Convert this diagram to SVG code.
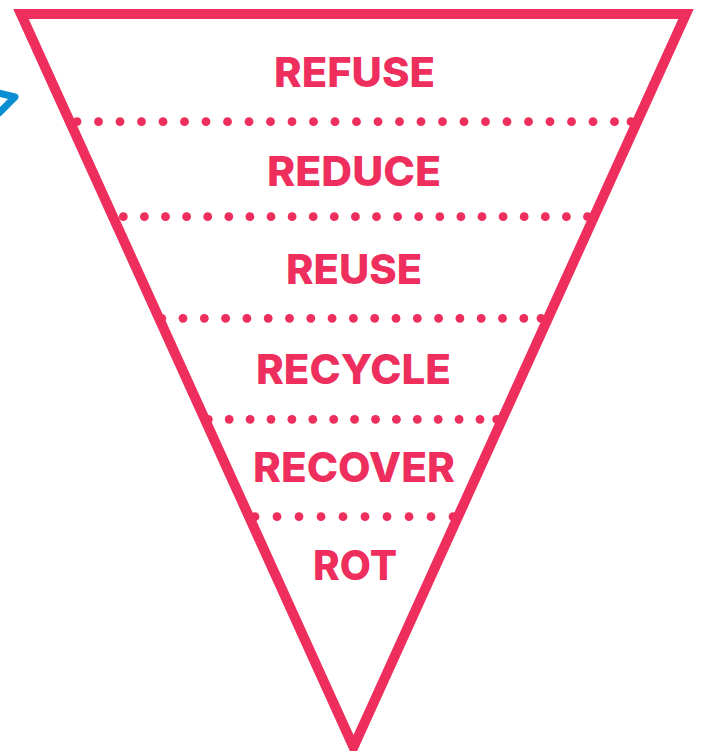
<svg xmlns="http://www.w3.org/2000/svg" width="704" height="751" viewBox="0 0 704 751">
<style>
.lbl{font-family:Inter,"Open Sans","Liberation Sans",sans-serif;font-weight:800;font-size:41px;fill:#ee2e5d}
.dot{fill:#ee2e5d}
.tri{fill:none;stroke:#ee2e5d;stroke-width:10;stroke-linejoin:miter;stroke-miterlimit:20}
.arrow{fill:none;stroke:#0b8fd2;stroke-width:7;stroke-linejoin:round}
</style>
<rect width="704" height="751" fill="#ffffff"/>
<g id="labels">
<g id="refuse"><text class="lbl" x="274" y="87" textLength="161" lengthAdjust="spacingAndGlyphs">REFUSE</text></g>
<g id="reduce"><text class="lbl" x="267" y="186" textLength="174" lengthAdjust="spacingAndGlyphs">REDUCE</text></g>
<g id="reuse"><text class="lbl" x="286" y="284" textLength="136" lengthAdjust="spacingAndGlyphs">REUSE</text></g>
<g id="recycle"><text class="lbl" x="256" y="384" textLength="195" lengthAdjust="spacingAndGlyphs">RECYCLE</text></g>
<g id="recover"><text class="lbl" x="253" y="482" textLength="202" lengthAdjust="spacingAndGlyphs">RECOVER</text></g>
<g id="rot"><text class="lbl" x="313" y="580" textLength="84" lengthAdjust="spacingAndGlyphs">ROT</text></g>
</g>
<g id="dots" class="dot">
<g id="row1">
<circle cx="77" cy="121.7" r="4.4"/><circle cx="98.5" cy="121.7" r="4.4"/><circle cx="120" cy="121.7" r="4.4"/><circle cx="141.5" cy="121.7" r="4.4"/><circle cx="163" cy="121.7" r="4.4"/><circle cx="184.5" cy="121.7" r="4.4"/><circle cx="206" cy="121.7" r="4.4"/><circle cx="227.5" cy="121.7" r="4.4"/><circle cx="249" cy="121.7" r="4.4"/><circle cx="270.5" cy="121.7" r="4.4"/><circle cx="292" cy="121.7" r="4.4"/><circle cx="313.5" cy="121.7" r="4.4"/><circle cx="335" cy="121.7" r="4.4"/><circle cx="356.5" cy="121.7" r="4.4"/><circle cx="378" cy="121.7" r="4.4"/><circle cx="399.5" cy="121.7" r="4.4"/><circle cx="421" cy="121.7" r="4.4"/><circle cx="442.5" cy="121.7" r="4.4"/><circle cx="464" cy="121.7" r="4.4"/><circle cx="485.5" cy="121.7" r="4.4"/><circle cx="507" cy="121.7" r="4.4"/><circle cx="528.5" cy="121.7" r="4.4"/><circle cx="550" cy="121.7" r="4.4"/><circle cx="571.5" cy="121.7" r="4.4"/><circle cx="593" cy="121.7" r="4.4"/><circle cx="614.5" cy="121.7" r="4.4"/><circle cx="631" cy="121.7" r="4.4"/>
</g>
<g id="row2">
<circle cx="123.3" cy="216.7" r="4.4"/><circle cx="144.4" cy="216.7" r="4.4"/><circle cx="165.5" cy="216.7" r="4.4"/><circle cx="186.6" cy="216.7" r="4.4"/><circle cx="207.7" cy="216.7" r="4.4"/><circle cx="228.8" cy="216.7" r="4.4"/><circle cx="249.9" cy="216.7" r="4.4"/><circle cx="271" cy="216.7" r="4.4"/><circle cx="292.1" cy="216.7" r="4.4"/><circle cx="313.2" cy="216.7" r="4.4"/><circle cx="334.3" cy="216.7" r="4.4"/><circle cx="355.4" cy="216.7" r="4.4"/><circle cx="376.5" cy="216.7" r="4.4"/><circle cx="397.6" cy="216.7" r="4.4"/><circle cx="418.7" cy="216.7" r="4.4"/><circle cx="439.8" cy="216.7" r="4.4"/><circle cx="460.9" cy="216.7" r="4.4"/><circle cx="482" cy="216.7" r="4.4"/><circle cx="503.1" cy="216.7" r="4.4"/><circle cx="524.2" cy="216.7" r="4.4"/><circle cx="545.3" cy="216.7" r="4.4"/><circle cx="566.4" cy="216.7" r="4.4"/><circle cx="587.5" cy="216.7" r="4.4"/>
</g>
<g id="row3">
<circle cx="161.7" cy="318.3" r="4.4"/><circle cx="183" cy="318.3" r="4.4"/><circle cx="204.3" cy="318.3" r="4.4"/><circle cx="225.6" cy="318.3" r="4.4"/><circle cx="246.9" cy="318.3" r="4.4"/><circle cx="268.2" cy="318.3" r="4.4"/><circle cx="289.5" cy="318.3" r="4.4"/><circle cx="310.8" cy="318.3" r="4.4"/><circle cx="332.1" cy="318.3" r="4.4"/><circle cx="353.4" cy="318.3" r="4.4"/><circle cx="374.7" cy="318.3" r="4.4"/><circle cx="396" cy="318.3" r="4.4"/><circle cx="417.3" cy="318.3" r="4.4"/><circle cx="438.6" cy="318.3" r="4.4"/><circle cx="459.9" cy="318.3" r="4.4"/><circle cx="481.2" cy="318.3" r="4.4"/><circle cx="502.5" cy="318.3" r="4.4"/><circle cx="523.8" cy="318.3" r="4.4"/><circle cx="541" cy="318.3" r="4.4"/>
</g>
<g id="row4">
<circle cx="208.3" cy="419.3" r="4.4"/><circle cx="229.2" cy="419.3" r="4.4"/><circle cx="250.1" cy="419.3" r="4.4"/><circle cx="271" cy="419.3" r="4.4"/><circle cx="291.9" cy="419.3" r="4.4"/><circle cx="312.8" cy="419.3" r="4.4"/><circle cx="333.7" cy="419.3" r="4.4"/><circle cx="354.6" cy="419.3" r="4.4"/><circle cx="375.5" cy="419.3" r="4.4"/><circle cx="396.4" cy="419.3" r="4.4"/><circle cx="417.3" cy="419.3" r="4.4"/><circle cx="438.2" cy="419.3" r="4.4"/><circle cx="459.1" cy="419.3" r="4.4"/><circle cx="480" cy="419.3" r="4.4"/><circle cx="496.7" cy="419.3" r="4.4"/>
</g>
<g id="row5">
<circle cx="255" cy="516.7" r="4.4"/><circle cx="277" cy="516.7" r="4.4"/><circle cx="299" cy="516.7" r="4.4"/><circle cx="321" cy="516.7" r="4.4"/><circle cx="343" cy="516.7" r="4.4"/><circle cx="365" cy="516.7" r="4.4"/><circle cx="387" cy="516.7" r="4.4"/><circle cx="409" cy="516.7" r="4.4"/><circle cx="431" cy="516.7" r="4.4"/><circle cx="453" cy="516.7" r="4.4"/>
</g>
</g>
<g id="triangle">
<polygon class="tri" points="21,14 686,14 353.5,747"/>
</g>
<g id="arrow">
<polyline class="arrow" points="-6,92 15,97 -2,114"/>
</g>
</svg>
